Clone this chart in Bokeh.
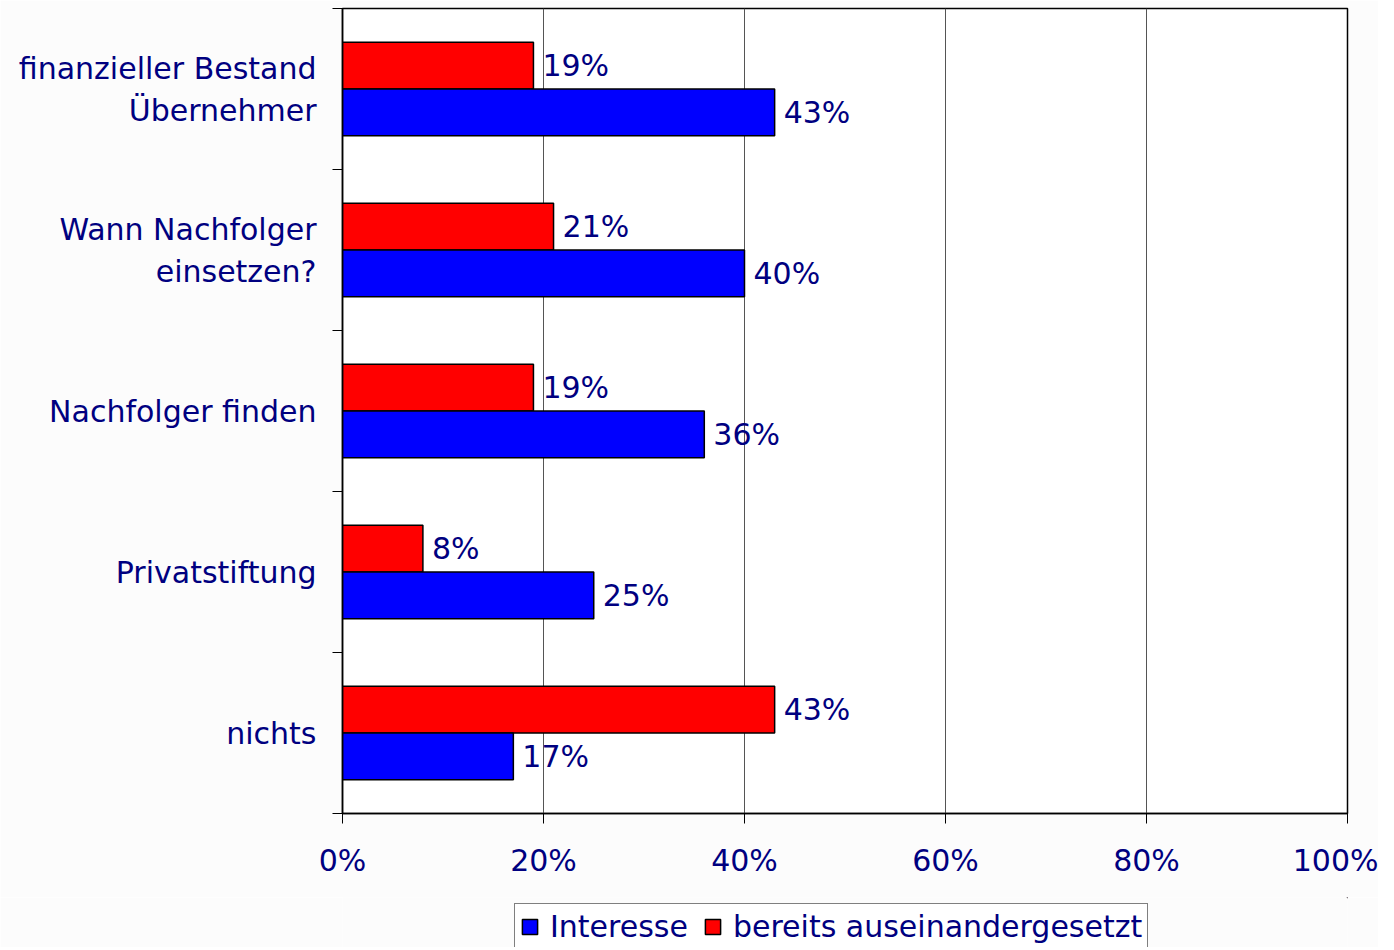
from bokeh.plotting import figure
from bokeh.layouts import column
from bokeh.models import ColumnDataSource, Range1d, FixedTicker, Legend, LegendItem
from bokeh.core.properties import value
from bokeh.embed import file_html
from bokeh.resources import INLINE

categories = ["finanzieller Bestand\nÜbernehmer", "Wann Nachfolger\neinsetzen?",
              "Nachfolger finden", "Privatstiftung", "nichts"]
interesse = [43, 40, 36, 25, 17]
bereits = [19, 21, 19, 8, 43]
x_ticks = [0, 20, 40, 60, 80, 100]
series_names = ["Interesse", "bereits auseinandergesetzt"]

FONT = "DejaVu Sans"
NAVY = "#000080"
BG = "#fcfcfc"

n = len(categories)
centers = [n - 0.5 - i for i in range(n)]
bh = 0.29

src_red = ColumnDataSource(dict(y=[c + bh / 2 for c in centers], v=bereits,
                                lab=[f"{v}%" for v in bereits]))
src_blue = ColumnDataSource(dict(y=[c - bh / 2 for c in centers], v=interesse,
                                 lab=[f"{v}%" for v in interesse]))

p = figure(width=1378, height=897, output_backend="svg", toolbar_location=None,
           x_range=Range1d(0, 100), y_range=Range1d(0, n),
           min_border_left=342, min_border_right=31, min_border_top=8, min_border_bottom=84)
p.background_fill_color = "white"
p.border_fill_color = BG
p.outline_line_color = "black"
p.outline_line_width = 1.5

p.hbar(y="y", left=0, right="v", height=bh, source=src_red,
       fill_color="#ff0000", line_color="black", line_width=1.5)
p.hbar(y="y", left=0, right="v", height=bh, source=src_blue,
       fill_color="#0000ff", line_color="black", line_width=1.5)

for s in (src_red, src_blue):
    p.text(x="v", y="y", text="lab", source=s, x_offset=9, text_baseline="middle",
           text_align="left", text_font=value(FONT), text_font_size="30px", text_color=NAVY)

# x axis
p.xaxis.ticker = FixedTicker(ticks=x_ticks)
p.xaxis.major_label_overrides = {t: f"{t}%" for t in x_ticks}
p.xaxis.major_tick_out = 10
p.xaxis.major_tick_in = 0
p.xaxis.minor_tick_line_color = None
p.xaxis.axis_line_color = "black"
p.xaxis.axis_line_width = 1.5
p.xaxis.major_tick_line_color = "black"
p.xaxis.major_label_text_font = FONT
p.xaxis.major_label_text_font_size = "30px"
p.xaxis.major_label_text_color = NAVY
p.xaxis.major_label_standoff = 19

# y axis: labels at centers, ticks at boundaries (minor)
p.yaxis.ticker = FixedTicker(ticks=centers, minor_ticks=list(range(n + 1)))
p.yaxis.major_label_overrides = {c: cat for c, cat in zip(centers, categories)}
p.yaxis.major_tick_out = 0
p.yaxis.major_tick_in = 0
p.yaxis.minor_tick_out = 10
p.yaxis.minor_tick_in = 0
p.yaxis.minor_tick_line_color = "black"
p.yaxis.axis_line_color = "black"
p.yaxis.axis_line_width = 1.5
p.yaxis.major_label_text_font = FONT
p.yaxis.major_label_text_font_size = "30px"
p.yaxis.major_label_text_color = NAVY
p.yaxis.major_label_standoff = 16

p.xgrid.ticker = FixedTicker(ticks=x_ticks)
p.xgrid.grid_line_color = "#555555"
p.xgrid.grid_line_width = 1
p.ygrid.grid_line_color = None

# legend strip below the chart (swatch renderers lie far outside the visible range)
p2 = figure(width=1378, height=50, output_backend="svg", toolbar_location=None,
            x_range=Range1d(0, 1), y_range=Range1d(0, 1), min_border=0,
            x_axis_location=None, y_axis_location=None)
p2.background_fill_color = BG
p2.border_fill_color = BG
p2.outline_line_color = None
p2.xgrid.grid_line_color = None
p2.ygrid.grid_line_color = None
lb = p2.hbar(y=[5], left=[5], right=[6], height=0.5,
             fill_color="#0000ff", line_color="black", line_width=1.5)
lr = p2.hbar(y=[5], left=[5], right=[6], height=0.5,
             fill_color="#ff0000", line_color="black", line_width=1.5)

legend = Legend(items=[LegendItem(label=series_names[0], renderers=[lb]),
                       LegendItem(label=series_names[1], renderers=[lr])],
                orientation="horizontal", location=(172, -3))
legend.label_text_font = FONT
legend.label_text_font_size = "30px"
legend.label_text_color = NAVY
legend.border_line_color = "black"
legend.border_line_width = 1
legend.background_fill_color = "white"
legend.glyph_width = 19
legend.glyph_height = 19
legend.padding = 5
legend.spacing = 15
legend.margin = 0
legend.label_standoff = 11
p2.add_layout(legend, "center")

open("out.html", "w").write(file_html(column(p, p2, spacing=0), INLINE))
